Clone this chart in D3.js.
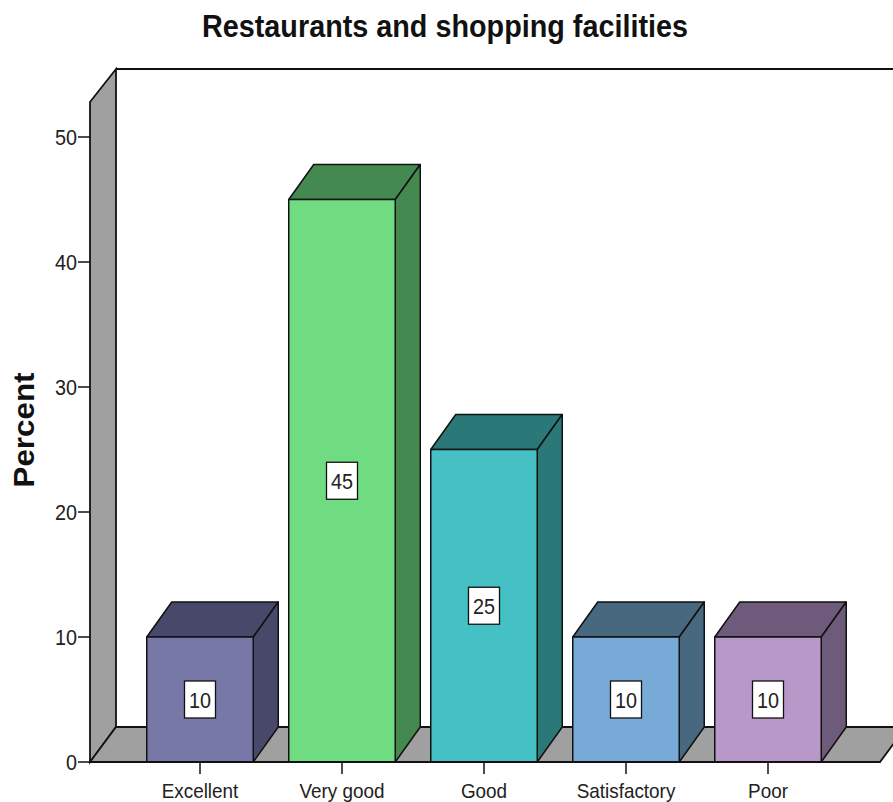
<!DOCTYPE html>
<html><head><meta charset="utf-8">
<script src="https://cdn.jsdelivr.net/npm/d3@7"></script>
<style>body{margin:0;background:#fff}svg{display:block}text{font-family:"Liberation Sans",Arial,sans-serif}</style>
</head><body>
<svg id="c" width="893" height="802"></svg>
<script>
const categories = ["Excellent","Very good","Good","Satisfactory","Poor"];
const percents = [10,45,25,10,10];
const frontColors = ["#7878a8","#70dc82","#45c0c4","#78aad8","#b898c8"];
const darkColors = ["#48486a","#448a50","#2a7878","#48687f","#6e5a7a"];
const yTicks = [0,10,20,30,40,50];
const title = "Restaurants and shopping facilities";
const yLabel = "Percent";

const svg = d3.select("#c");
const DX = 25, DY = -35;
const y = d3.scaleLinear().domain([0, 52.8]).range([762, 102]);
const x = d3.scaleBand().domain(categories).range([129, 839]).paddingInner(0.25).paddingOuter(0.125);
const axisX = 90, floorRight = 880;
const stroke = "#111";
const line = d3.line();
const SX = 0.9;
function place(sel, fx, fy){ return sel.attr("transform",(d,i)=>`translate(${fx(d,i)},${fy(d,i)}) scale(${SX},1)`); }

// left wall
svg.append("path").attr("d", line([[axisX,y(0)],[axisX,y.range()[1]],[axisX+DX+1,y.range()[1]+DY+2],[axisX+DX+1,y(0)+DY]]) + "Z")
  .attr("fill","#a0a0a0").attr("stroke",stroke).attr("stroke-width",1.8);
// back wall top line
svg.append("line").attr("x1",axisX+DX+1).attr("x2",893).attr("y1",y.range()[1]+DY+2).attr("y2",y.range()[1]+DY+2)
  .attr("stroke",stroke).attr("stroke-width",1.8);
// floor
svg.append("path").attr("d", line([[axisX,y(0)],[axisX+DX+1,y(0)+DY],[floorRight+DX+1,y(0)+DY],[floorRight,y(0)]]) + "Z")
  .attr("fill","#a0a0a0").attr("stroke",stroke).attr("stroke-width",1.8);

// y axis ticks
const ya = svg.append("g");
ya.selectAll("line").data(yTicks).join("line")
  .attr("x1",axisX-12).attr("x2",axisX).attr("y1",d=>y(d)).attr("y2",d=>y(d)).attr("stroke",stroke).attr("stroke-width",1.5);
place(ya.selectAll("text").data(yTicks).join("text"), ()=>axisX-13, d=>y(d)+8)
  .attr("text-anchor","end").attr("font-size",22).attr("fill","#222").text(d=>d);

// bars
const bars = svg.append("g").selectAll("g").data(categories).join("g");
bars.each(function(c,i){
  const g = d3.select(this);
  const x0 = x(c), x1 = x(c)+x.bandwidth(), yt = y(percents[i]), yb = y(0);
  g.append("path").attr("d", line([[x0,yt],[x0+DX,yt+DY],[x1+DX,yt+DY],[x1,yt]])+"Z")
    .attr("fill",darkColors[i]).attr("stroke",stroke).attr("stroke-width",1.5).attr("stroke-linejoin","round");
  g.append("path").attr("d", line([[x1,yt],[x1+DX,yt+DY],[x1+DX,yb+DY],[x1,yb]])+"Z")
    .attr("fill",darkColors[i]).attr("stroke",stroke).attr("stroke-width",1.5).attr("stroke-linejoin","round");
  g.append("rect").attr("x",x0).attr("y",yt).attr("width",x1-x0).attr("height",yb-yt)
    .attr("fill",frontColors[i]).attr("stroke",stroke).attr("stroke-width",1.5);
  const cx = x0 + x.bandwidth()/2, cy = (yt+yb)/2;
  g.append("rect").attr("x",cx-15.5).attr("y",cy-18.5).attr("width",31).attr("height",37)
    .attr("fill","#fff").attr("stroke",stroke).attr("stroke-width",1.3);
  g.append("text").attr("transform",`translate(${cx},${cy+8}) scale(${SX},1)`).attr("text-anchor","middle")
    .attr("font-size",22).attr("fill","#222").text(percents[i]);
});

// front floor line
svg.append("line").attr("x1",axisX).attr("x2",floorRight).attr("y1",y(0)).attr("y2",y(0)).attr("stroke",stroke).attr("stroke-width",1.8);

// x ticks
const xa = svg.append("g");
xa.selectAll("line").data(categories).join("line")
  .attr("x1",d=>x(d)+x.bandwidth()/2).attr("x2",d=>x(d)+x.bandwidth()/2).attr("y1",y(0)).attr("y2",y(0)+12)
  .attr("stroke",stroke).attr("stroke-width",1.5);
place(xa.selectAll("text").data(categories).join("text"), d=>x(d)+x.bandwidth()/2, ()=>798)
  .attr("text-anchor","middle").attr("font-size",21).attr("fill","#222").text(d=>d);

// title
svg.append("text").attr("x",445).attr("y",37).attr("text-anchor","middle").attr("font-size",31).attr("font-weight","bold")
  .attr("textLength",486).attr("lengthAdjust","spacingAndGlyphs").attr("fill","#111").text(title);
// y label
svg.append("text").attr("transform","translate(34,430) rotate(-90)").attr("text-anchor","middle").attr("font-size",30)
  .attr("font-weight","bold").attr("textLength",115).attr("lengthAdjust","spacingAndGlyphs").attr("fill","#111").text(yLabel);
</script>
</body></html>
